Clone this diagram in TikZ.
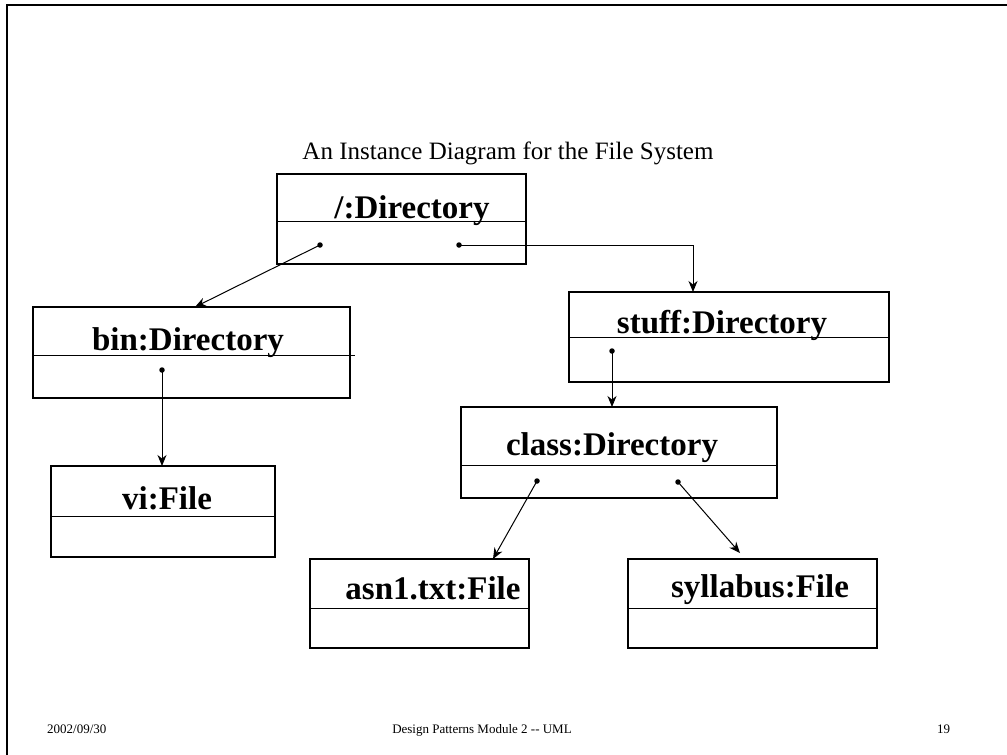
\documentclass[tikz,border=0pt]{standalone}
\usepackage{fontspec}
\setmainfont{Liberation Serif}
\usetikzlibrary{arrows.meta}
\begin{document}
\begin{tikzpicture}[x=1pt,y=-1pt,
  objbox/.style={draw, line width=1.4pt, rectangle, inner sep=0pt},
  divline/.style={line width=1pt},
  objlabel/.style={anchor=base, inner sep=0pt, font=\fontsize{33}{38}\selectfont\bfseries},
  link/.style={line width=1pt, -{Stealth[length=11pt,width=9pt,inset=3.5pt]}},
  linkdot/.style={circle, fill, inner sep=0pt, minimum size=5.5pt},
  footer/.style={anchor=base west, inner sep=0pt, font=\fontsize{13}{15}\selectfont}]
\useasboundingbox (0,0) rectangle (1007,755);
% slide frame
\draw[line width=2pt] (1007,5) -- (7,5) -- (7,755);
% title
\node[anchor=base, inner sep=0pt, font=\fontsize{25}{30}\selectfont] (title) at (508,159) {An Instance Diagram for the File System};

% object boxes
\node[objbox, minimum width=249pt, minimum height=90pt] (root) at (401.5,219) {};
\node[objbox, minimum width=317pt, minimum height=91pt] (bin) at (191.5,352.5) {};
\node[objbox, minimum width=320pt, minimum height=90pt] (stuff) at (729,337) {};
\node[objbox, minimum width=316pt, minimum height=91pt] (class) at (619,452.5) {};
\node[objbox, minimum width=224pt, minimum height=91pt] (vi) at (163,511.5) {};
\node[objbox, minimum width=219pt, minimum height=89pt] (asn) at (419.5,603.5) {};
\node[objbox, minimum width=249pt, minimum height=89pt] (syl) at (752.5,603.5) {};

% compartment dividers
\draw[divline] (root.west |- 0,221) -- (root.east |- 0,221);
\draw[divline] (bin.west |- 0,355) -- (355,355);
\draw[divline] (stuff.west |- 0,337) -- (stuff.east |- 0,337);
\draw[divline] (class.west |- 0,465) -- (class.east |- 0,465);
\draw[divline] (vi.west |- 0,516) -- (vi.east |- 0,516);
\draw[divline] (asn.west |- 0,608) -- (asn.east |- 0,608);
\draw[divline] (syl.west |- 0,608) -- (syl.east |- 0,608);

% object names
\node[objlabel] (rootname) at (412,218) {/:Directory};
\node[objlabel] (binname) at (188,350) {bin:Directory};
\node[objlabel] (stuffname) at (722,333) {stuff:Directory};
\node[objlabel] (classname) at (612,455) {class:Directory};
\node[objlabel] (viname) at (167,509) {vi:File};
\node[objlabel] (asnname) at (433,599) {asn1.txt:File};
\node[objlabel] (sylname) at (760,597) {syllabus:File};

% link origins
\node[linkdot] (rootL) at (320,245) {};
\node[linkdot] (rootR) at (459,245) {};
\node[linkdot] (bindot) at (162,370) {};
\node[linkdot] (stuffdot) at (612,351) {};
\node[linkdot] (classL) at (537,481) {};
\node[linkdot] (classR) at (678,482) {};

% link targets
\coordinate (binin) at (195,307);
\coordinate (stuffin) at (693,292);
\coordinate (viin) at (162,466);
\coordinate (classin) at (612,407);
\coordinate (asnin) at (493,559);
\coordinate (sylin) at (740,553);

% links
\draw[link] (rootL.center) -- (binin);
\draw[link] (rootR.center) -| (stuffin);
\draw[link] (bindot.center) -- (viin);
\draw[link] (stuffdot.center) -- (classin);
\draw[link] (classL.center) -- (asnin);
\draw[link] (classR.center) -- (sylin);

% footer
\node[footer] (date) at (47,733) {2002/09/30};
\node[footer, anchor=base] (course) at (482,733) {Design Patterns Module 2 -{}- UML};
\node[footer] (page) at (937,733) {19};
\end{tikzpicture}
\end{document}
